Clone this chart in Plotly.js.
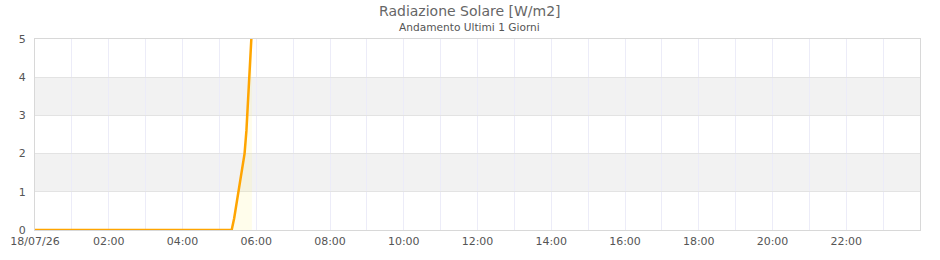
<!DOCTYPE html>
<html>
<head>
<meta charset="utf-8">
<script src="https://cdn.plot.ly/plotly-3.0.1.min.js"></script>
<style>html,body{margin:0;padding:0;background:#fff;}#chart{width:940px;height:260px;}</style>
</head>
<body>
<div id="chart"></div>
<script>
// Data: times (local, 18 Jul 2026) and solar radiation values [W/m2]
var times = ["2026-07-18 00:00","2026-07-18 05:20","2026-07-18 05:24","2026-07-18 05:28","2026-07-18 05:32","2026-07-18 05:36","2026-07-18 05:41","2026-07-18 05:44","2026-07-18 05:47","2026-07-18 05:50","2026-07-18 05:53"];
var values = [0, 0, 0.3, 0.7, 1.1, 1.5, 2.0, 2.6, 3.4, 4.3, 5.3];
var tickVals = ["2026-07-18 00:00","2026-07-18 02:00","2026-07-18 04:00","2026-07-18 06:00","2026-07-18 08:00","2026-07-18 10:00","2026-07-18 12:00","2026-07-18 14:00","2026-07-18 16:00","2026-07-18 18:00","2026-07-18 20:00","2026-07-18 22:00"];
var tickText = ["18/07/26","02:00","04:00","06:00","08:00","10:00","12:00","14:00","16:00","18:00","20:00","22:00"];
var yBands = [[1,2],[3,4]];
var titleText = "Radiazione Solare [W/m2]";
var subtitleText = "Andamento Ultimi 1 Giorni";

var shapes = yBands.map(function(b){
  return {type:"rect", xref:"paper", yref:"y", x0:0, x1:1, y0:b[0], y1:b[1],
          fillcolor:"#f2f2f2", line:{width:0}, layer:"below"};
});

var trace = {
  x: times, y: values, type: "scatter", mode: "lines",
  line: {color: "#ffa500", width: 2.5},
  fill: "tozeroy", fillcolor: "rgba(255,240,120,0.15)",
  hoverinfo: "x+y"
};

var layout = {
  width: 940, height: 260,
  margin: {l: 35, r: 20, t: 39, b: 30},
  paper_bgcolor: "#ffffff", plot_bgcolor: "rgba(0,0,0,0)",
  font: {family: "DejaVu Sans, sans-serif", size: 11, color: "#555"},
  showlegend: false,
  shapes: shapes,
  xaxis: {
    type: "date",
    range: ["2026-07-18 00:00", "2026-07-19 00:00"],
    tickmode: "array", tickvals: tickVals, ticktext: tickText,
    showgrid: true, gridcolor: "#ececf8", gridwidth: 1,
    minor: {dtick: 3600000, showgrid: true, gridcolor: "#ececf8", gridwidth: 1},
    showline: true, linecolor: "#d8d8d8", linewidth: 1, mirror: true,
    ticks: "", zeroline: false,
    ticklabelstandoff: 1,
    tickfont: {size: 11, color: "#555"}
  },
  yaxis: {
    range: [0, 5], dtick: 1, tick0: 0,
    showgrid: true, gridcolor: "#e3e3e3", gridwidth: 1,
    showline: true, linecolor: "#d8d8d8", linewidth: 1, mirror: true,
    ticks: "", zeroline: false,
    ticklabelstandoff: 6,
    tickfont: {size: 11, color: "#555"}
  },
  annotations: [
    {text: titleText, xref: "paper", yref: "paper", x: 0.4915, y: 1, yshift: 28,
     xanchor: "center", yanchor: "middle", showarrow: false,
     font: {size: 14, color: "#666"}},
    {text: subtitleText, xref: "paper", yref: "paper", x: 0.4915, y: 1, yshift: 12,
     xanchor: "center", yanchor: "middle", showarrow: false,
     font: {size: 10.6, color: "#555"}}
  ]
};

Plotly.newPlot("chart", [trace], layout, {displayModeBar: false, staticPlot: true});
</script>
</body>
</html>
